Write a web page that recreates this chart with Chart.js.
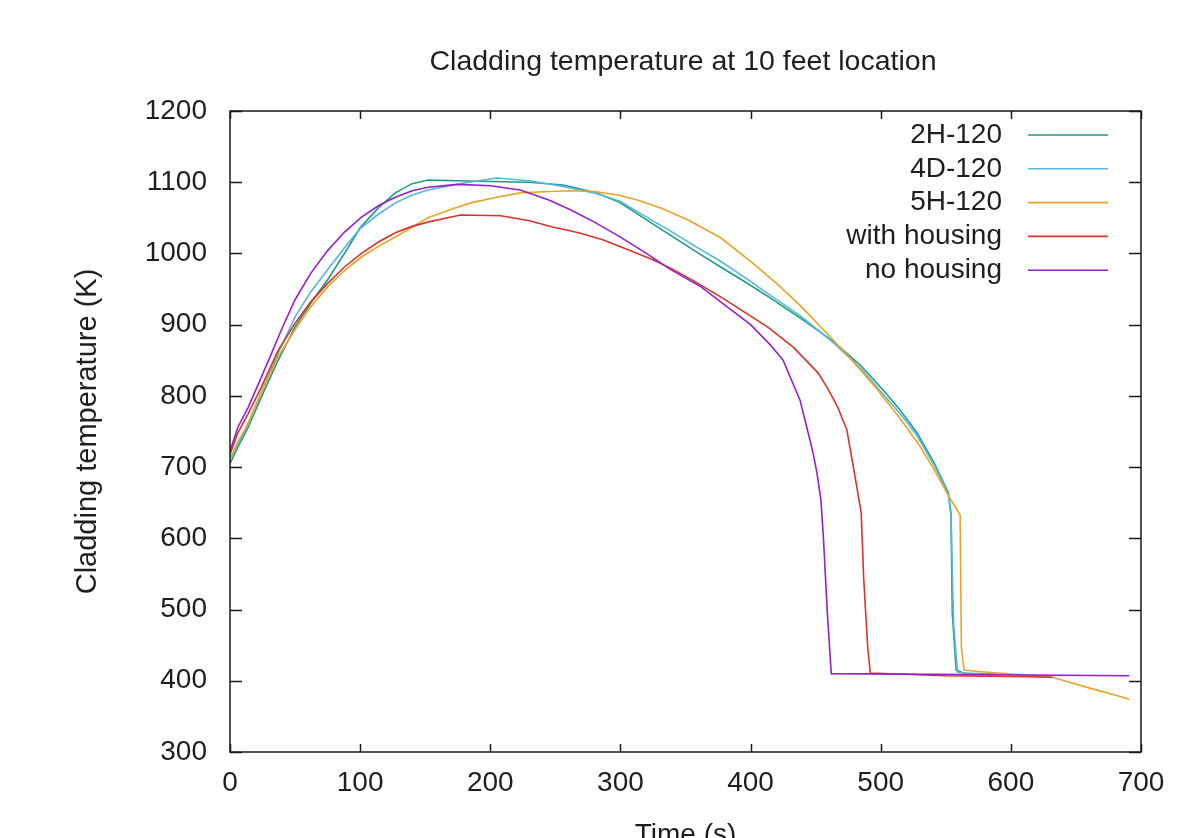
<!DOCTYPE html>
<html><head><meta charset="utf-8">
<script src="https://cdn.jsdelivr.net/npm/chart.js@4.4.1/dist/chart.umd.min.js"></script>
<style>html,body{margin:0;padding:0;background:#fff;}</style>
</head><body>
<canvas id="c" width="1200" height="838"></canvas>
<script>
// ---- data ----
const chartTitle = "Cladding temperature at 10 feet location";
const xTitle = "Time (s)";
const yTitle = "Cladding temperature (K)";
const seriesNames = ["2H-120", "4D-120", "5H-120", "with housing", "no housing"];
const seriesColors = ["#1a9c86", "#56b6dc", "#e6a526", "#d6352c", "#9422c8"];
const xTicks = [0, 100, 200, 300, 400, 500, 600, 700];
const yTicks = [300, 400, 500, 600, 700, 800, 900, 1000, 1100, 1200];

const time2H = [0,6,14,24,37,50,62,75,88,100,114,127,140,152,175,200,230,256,282,300,321,338,362,377,395,413,440,464,485,502,515,528,541,552,554,555,558,565,575,590];
const temp2H = [705,728,756,798,850,897,930,963,1000,1036,1064,1085,1098,1103,1102,1101,1100,1096,1085,1071,1046,1026,998,981,961,940,907,876,842,808,780,748,706,664,635,495,415,410,410,409];

const time4D = [0,6,14,24,37,50,62,75,88,100,114,127,140,152,180,205,230,256,282,300,321,338,362,377,395,413,440,464,485,502,515,528,541,552,554,556,559,570,585];
const temp4D = [712,732,762,805,860,911,946,977,1008,1035,1055,1071,1082,1089,1099,1106,1102,1094,1084,1073,1050,1032,1005,989,967,944,910,874,838,802,775,744,703,662,630,480,412,410,409];

const time5H = [0,6,14,24,37,50,62,75,88,101,114,127,140,152,170,185,205,223,245,262,280,298,313,332,352,377,400,420,438,458,477,497,515,530,540,552,561,562,564,575,590,610,632,645,662,680,691];
const temp5H = [712,735,760,804,855,893,925,953,976,995,1010,1023,1037,1050,1062,1071,1079,1085,1087,1088,1087,1082,1075,1063,1047,1022,989,958,927,889,852,810,768,730,700,660,633,447,415,413,411,408,405,398,389,380,374];

const timeWith = [0,6,14,24,37,50,62,75,88,101,114,127,140,152,177,208,230,248,268,287,305,325,340,354,377,395,413,433,452,460,467,474,479,485,487,490,492,550,600,632];
const tempWith = [718,748,775,812,864,902,932,958,981,1000,1016,1029,1038,1044,1054,1053,1046,1037,1029,1019,1006,991,978,964,939,918,897,868,832,808,784,752,700,636,541,447,411,407,406,405];

const timeNo = [0,6,14,24,32,40,50,62,75,88,101,114,127,140,152,175,200,223,245,262,280,300,320,338,362,377,400,415,425,431,438,444,448,451,454,456,459,462,691];
const tempNo = [722,756,784,826,860,895,935,972,1004,1030,1051,1067,1079,1088,1093,1097,1095,1089,1075,1061,1044,1023,1000,978,953,932,900,872,850,824,794,750,720,692,655,600,495,410,407];

const seriesTimes = [time2H, time4D, time5H, timeWith, timeNo];
const seriesTemps = [temp2H, temp4D, temp5H, tempWith, tempNo];

// ---- chart ----
const FONT = "'Liberation Sans', Arial, Helvetica, sans-serif";
const textColor = "#1e1e1e";

const datasets = seriesNames.map((name, i) => ({
  label: name,
  data: seriesTimes[i].map((t, k) => ({x: t, y: seriesTemps[i][k]})),
  borderColor: seriesColors[i],
  backgroundColor: seriesColors[i],
  borderWidth: 1.6,
  pointRadius: 0,
  tension: 0,
  fill: false,
  order: seriesNames.length - i
}));

const gnuplotFrame = {
  id: 'gnuplotFrame',
  afterDraw(chart) {
    const {ctx, chartArea: {left, right, top, bottom}, scales: {x, y}} = chart;
    ctx.save();
    ctx.strokeStyle = "#1a1a1a";
    ctx.lineWidth = 1.5;
    ctx.beginPath();
    xTicks.forEach(v => {
      const px = Math.round(x.getPixelForValue(v)) + 0.5;
      ctx.moveTo(px, bottom); ctx.lineTo(px, bottom - 8);
      ctx.moveTo(px, top); ctx.lineTo(px, top + 8);
    });
    yTicks.forEach(v => {
      const py = Math.round(y.getPixelForValue(v)) + 0.5;
      ctx.moveTo(left, py); ctx.lineTo(left + 12, py);
      ctx.moveTo(right, py); ctx.lineTo(right - 12, py);
    });
    ctx.stroke();
    ctx.strokeRect(left, top, right - left, bottom - top);

    // title
    ctx.fillStyle = textColor;
    ctx.font = "28.5px " + FONT;
    ctx.textAlign = "center";
    ctx.textBaseline = "alphabetic";
    ctx.fillText(chartTitle, 683, 70);

    // legend (gnuplot style: text right-aligned, sample line at right)
    ctx.font = "28px " + FONT;
    ctx.textAlign = "right";
    ctx.textBaseline = "middle";
    seriesNames.forEach((name, i) => {
      const ly = 135 + i * 33.8;
      ctx.fillStyle = textColor;
      ctx.fillText(name, 1002, ly);
      ctx.strokeStyle = seriesColors[i];
      ctx.lineWidth = 1.6;
      ctx.beginPath();
      ctx.moveTo(1028, ly); ctx.lineTo(1108, ly);
      ctx.stroke();
    });
    ctx.restore();
  }
};

new Chart(document.getElementById('c'), {
  type: 'line',
  data: {datasets},
  options: {
    responsive: false,
    animation: false,
    devicePixelRatio: 1,
    layout: {padding: {top: 111, right: 59, bottom: 0, left: 0}},
    plugins: {legend: {display: false}, title: {display: false}, tooltip: {enabled: false}},
    scales: {
      x: {
        type: 'linear', min: 0, max: 700,
        afterBuildTicks: s => { s.ticks = xTicks.map(v => ({value: v})); },
        afterFit: s => { s.height = 86; },
        grid: {display: false, drawTicks: false},
        border: {display: false},
        ticks: {color: textColor, font: {family: FONT, size: 28}, padding: 14, maxRotation: 0, autoSkip: false, callback: v => String(v)},
        title: {display: true, text: xTitle, color: textColor, font: {family: FONT, size: 28}, padding: {top: 0, bottom: -14}}
      },
      y: {
        type: 'linear', min: 300, max: 1200,
        afterBuildTicks: s => { s.ticks = yTicks.map(v => ({value: v})); },
        afterFit: s => { s.width = 230; },
        grid: {display: false, drawTicks: false},
        border: {display: false},
        ticks: {color: textColor, font: {family: FONT, size: 28}, padding: 23, autoSkip: false, callback: v => String(v)},
        title: {display: true, text: yTitle, color: textColor, font: {family: FONT, size: 29}, padding: {top: 71, bottom: 0}}
      }
    }
  },
  plugins: [gnuplotFrame]
});
</script>
</body></html>
